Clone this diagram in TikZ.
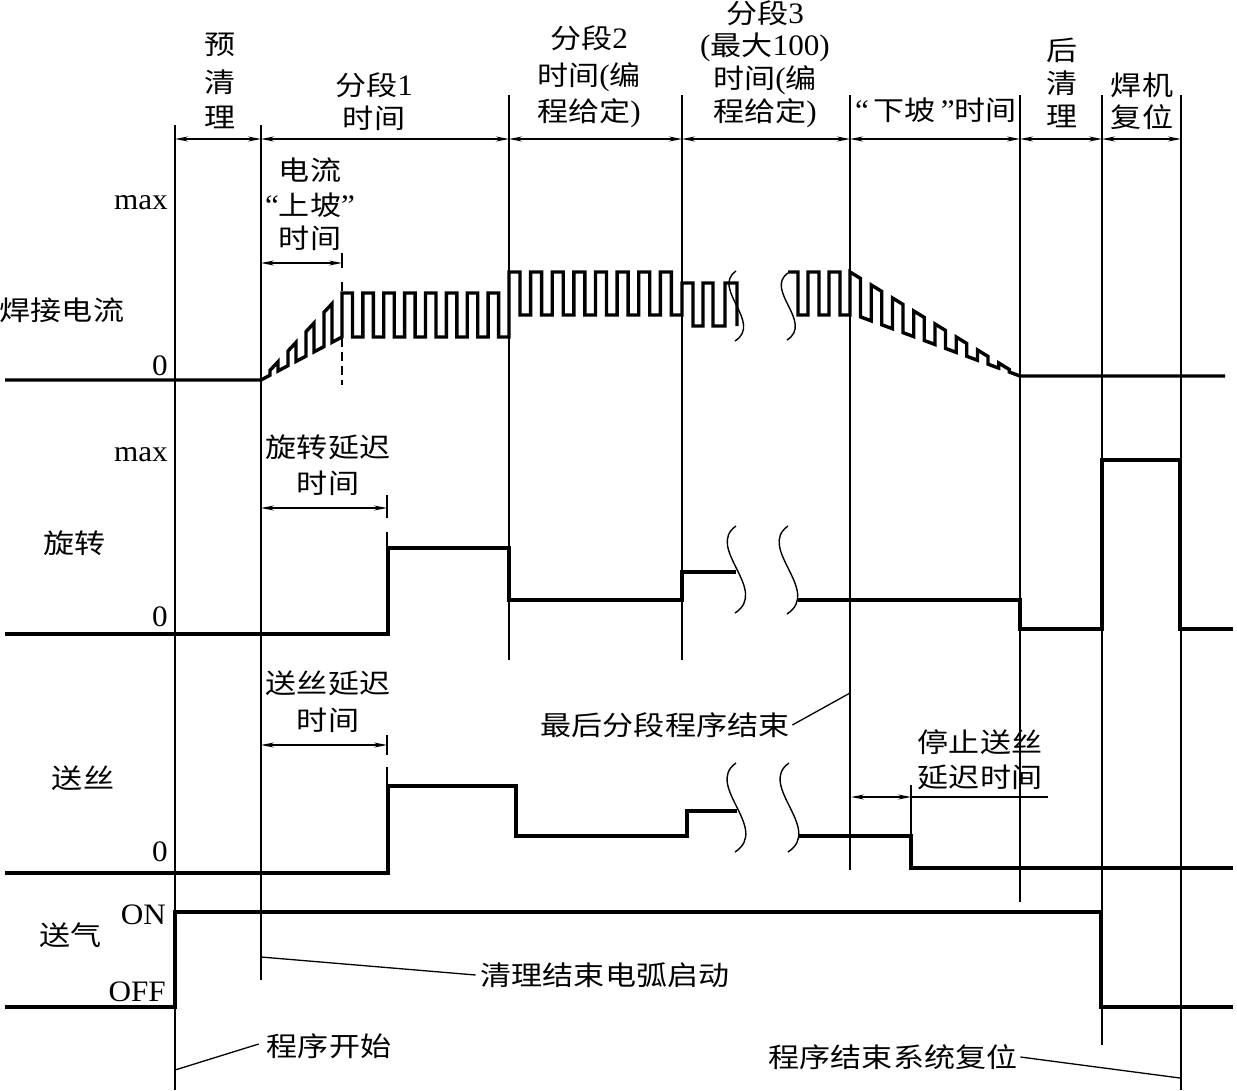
\documentclass[tikz,border=0pt]{standalone}
\usepackage{fontspec}
\setmainfont[Scale=1.1,FakeStretch=1.05]{Liberation Serif}
\newfontfamily\cjk[FakeStretch=1.15]{Noto Sans CJK SC}
\usetikzlibrary{arrows.meta}
\newcommand\zh[1]{{\cjk #1}}
\newcommand\brkc[3]{\draw[brk] (#1,#2) .. controls ({#1-0.36*#3},{#2+0.25*#3}) and ({#1+0.39*#3},{#2+0.74*#3}) .. ({#1-1},{#2+#3});}
\begin{document}
\begin{tikzpicture}[x=1pt,y=-1pt,
  sig/.style={line width=3.4pt},
  thin/.style={line width=1.3pt},
  brk/.style={line width=1.4pt},
  dim/.style={line width=1.2pt,{Stealth[length=13pt,width=5pt]}-{Stealth[length=13pt,width=5pt]}},
  lbl/.style={inner sep=0pt,font=\fontsize{27}{30}\selectfont},
]
\useasboundingbox (0,0) rectangle (1237,1090);
% ---- vertical time lines
\draw[thin] (175,125) -- (175,1090);
\draw[thin] (261,125) -- (261,980);
\draw[thin] (509,95) -- (509,660);
\draw[thin] (682,95) -- (682,660);
\draw[thin] (850,95) -- (850,870);
\draw[thin] (1020,95) -- (1020,902);
\draw[thin] (1102,95) -- (1102,1045);
\draw[thin] (1181,95) -- (1181,1090);
% ---- header dimension arrows
\foreach \a/\b in {175/261,261/509,509/682,682/850,850/1020,1020/1102,1102/1181}
  \draw[dim] (\a,139) -- (\b,139);
% ---- header texts
\node[lbl] (h1a) at (220,45) {\zh{预}};
\node[lbl] (h1b) at (220,82) {\zh{清}};
\node[lbl] (h1c) at (220,117) {\zh{理}};
\node[lbl] (h2a) at (374,85) {\zh{分段}1};
\node[lbl] (h2b) at (374,118) {\zh{时间}};
\node[lbl] (h3a) at (589,38) {\zh{分段}2};
\node[lbl] (h3b) at (589,77) {\zh{时间}(\zh{编}};
\node[lbl] (h3c) at (589,113) {\zh{程给定})};
\node[lbl] (h4a) at (765,13) {\zh{分段}3};
\node[lbl] (h4b) at (765,47) {(\zh{最大}100)};
\node[lbl] (h4c) at (765,80) {\zh{时间}(\zh{编}};
\node[lbl] (h4d) at (765,113) {\zh{程给定})};
\node[lbl] (h5) at (936,110) {“\,\zh{下坡}\,”\zh{时间}};
\node[lbl] (h6a) at (1062,50) {\zh{后}};
\node[lbl] (h6b) at (1062,83) {\zh{清}};
\node[lbl] (h6c) at (1062,116) {\zh{理}};
\node[lbl] (h7a) at (1142,85) {\zh{焊机}};
\node[lbl] (h7b) at (1142,117) {\zh{复位}};
% ---- left labels
\node[lbl,anchor=east] (maxI) at (168,203) {max};
\node[lbl] (lI) at (62,310) {\zh{焊接电流}};
\node[lbl,anchor=east] (zI) at (168,366) {0};
\node[lbl,anchor=east] (maxR) at (168,455) {max};
\node[lbl] (lR) at (75,543) {\zh{旋转}};
\node[lbl,anchor=east] (zR) at (168,617) {0};
\node[lbl] (lW) at (83,778) {\zh{送丝}};
\node[lbl,anchor=east] (zW) at (168,852) {0};
\node[lbl] (lG) at (71,935) {\zh{送气}};
\node[lbl,anchor=east] (onG) at (166,915) {ON};
\node[lbl,anchor=east] (offG) at (166,992) {OFF};
% ---- current signal
\draw[sig] (5,380) -- (261,380)
  \foreach \i in {0,...,3} {
    -- ({270+18*\i},{380-0.5309*(9+18*\i)})
    -- ({270+18*\i},{380-1.0741*(9+18*\i)})
    -- ({278+18*\i},{380-1.0741*(17+18*\i)})
    -- ({278+18*\i},{380-0.5309*(17+18*\i)})
  }
  -- (342,337)
  \foreach \i in {0,...,7} {
    -- ({342+20.875*\i},293) -- ({352.5+20.875*\i},293) -- ({352.5+20.875*\i},337) -- ({362.875+20.875*\i},337)
  }
  \foreach \i in {0,...,7} {
    -- ({509+21.625*\i},272) -- ({520+21.625*\i},272) -- ({520+21.625*\i},315) -- ({530.625+21.625*\i},315)
  }
  -- (682,283) -- (693,283) -- (693,326) -- (703,326) -- (703,283) -- (713,283) -- (713,326) -- (725,326) -- (725,283) -- (737,283) -- (737,326);
\draw[sig] (788,272) -- (798,272) -- (798,315) -- (808,315) -- (808,272) -- (819,272) -- (819,315) -- (829,315) -- (829,272) -- (840,272) -- (840,315) -- (850,315)
  \foreach \i in {0,...,7} {
    -- ({850+21.25*\i},{272+0.6118*21.25*\i})
    -- ({860.5+21.25*\i},{272+0.6118*(10.5+21.25*\i)})
    -- ({860.5+21.25*\i},{313+0.3706*(10.5+21.25*\i)})
    -- ({871.25+21.25*\i},{313+0.3706*(21.25+21.25*\i)})
  } -- (1225,376);
\brkc{736}{271}{70}
\brkc{788}{273}{67}
% ramp dimension
\node[lbl] (rpa) at (310,170) {\zh{电流}};
\node[lbl] (rpb) at (310,205) {“\zh{上坡}”};
\node[lbl] (rpc) at (310,238) {\zh{时间}};
\draw[dim] (261,263) -- (342,263);
\draw[thin] (342,253) -- (342,268);
\draw[thin,dash pattern=on 9pt off 5pt] (342,282) -- (342,385);
% ---- rotation signal
\draw[sig] (5,634) -- (388,634) -- (388,548) -- (509,548) -- (509,600) -- (682,600) -- (682,572) -- (736,572);
\draw[sig] (798,600) -- (1020,600) -- (1020,629) -- (1102,629) -- (1102,460) -- (1180,460) -- (1180,629) -- (1233,629);
\brkc{736}{526}{87}
\brkc{788}{526}{88}
\node[lbl] (rda) at (328,447) {\zh{旋转延迟}};
\node[lbl] (rdb) at (328,483) {\zh{时间}};
\draw[dim] (261,508) -- (387,508);
\draw[thin] (387,495) -- (387,518);
\draw[thin] (387,532) -- (387,548);
% ---- wire feed signal
\draw[sig] (5,873) -- (388,873) -- (388,786) -- (516,786) -- (516,836) -- (687,836) -- (687,811) -- (737,811);
\draw[sig] (799,836) -- (911,836) -- (911,868) -- (1233,868);
\brkc{736}{763}{89}
\brkc{789}{763}{89}
\node[lbl] (wda) at (328,683) {\zh{送丝延迟}};
\node[lbl] (wdb) at (328,720) {\zh{时间}};
\draw[dim] (261,745) -- (387,745);
\draw[thin] (387,735) -- (387,755);
\draw[thin] (387,767) -- (387,786);
\node[lbl] (sda) at (980,742) {\zh{停止送丝}};
\node[lbl] (sdb) at (980,777) {\zh{延迟时间}};
\draw[dim] (851,797) -- (911,797);
\draw[thin] (911,785) -- (911,836);
\draw[thin] (911,797) -- (1048,797);
\node[lbl] (last) at (665,725) {\zh{最后分段程序结束}};
\coordinate (lastp) at (850,693);
\draw[thin] ([xshift=3pt]last.east) -- (lastp);
% ---- gas signal
\draw[sig] (5,1007) -- (175,1007) -- (175,912) -- (1101,912) -- (1101,1007) -- (1233,1007);
\node[lbl] (arc) at (605,975) {\zh{清理结束电弧启动}};
\coordinate (arcp) at (261,957);
\draw[thin] (arcp) -- ([xshift=-5pt]arc.west);
\node[lbl] (start) at (329,1046) {\zh{程序开始}};
\coordinate (startp) at (175,1070);
\draw[thin] (startp) -- ([xshift=-8pt,yshift=2pt]start.west);
\node[lbl] (reset) at (893,1057) {\zh{程序结束系统复位}};
\coordinate (resetp) at (1180,1078);
\draw[thin] ([xshift=3pt]reset.east) -- (resetp);
\end{tikzpicture}
\end{document}
